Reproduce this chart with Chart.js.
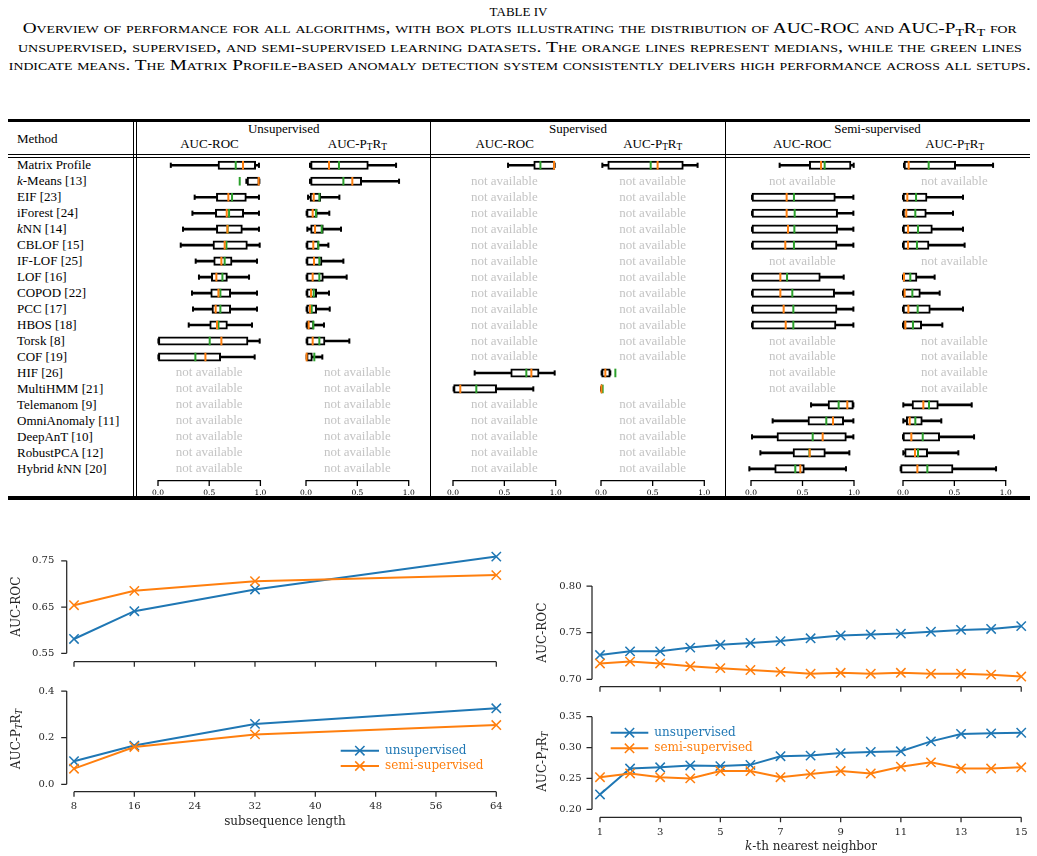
<!DOCTYPE html>
<html>
<head>
<meta charset="utf-8">
<script src="https://cdn.jsdelivr.net/npm/chart.js@4.4.1/dist/chart.umd.min.js"></script>
<style>
  html, body { margin: 0; padding: 0; background: #fff; }
  #page { position: relative; width: 1037px; height: 856px; overflow: hidden; font-family: "Liberation Serif", serif; color: #000; }
  .t { position: absolute; white-space: nowrap; font-size: 13px; line-height: 16px; }
  .cap { position: absolute; left: 0; width: 1037px; text-align: center; white-space: nowrap; font-size: 14px; line-height: 16px; font-variant: small-caps; }
  .cap span { display: inline-block; transform-origin: 50% 50%; }
  .rule { position: absolute; background: #000; }
  sub { font-size: 0.72em; vertical-align: -0.25em; line-height: 0; }
  canvas { position: absolute; }
</style>
</head>
<body>
<div id="page"></div>
<script>
// ---- data ----
const methods = ['Matrix Profile', 'k-Means [13]', 'EIF [23]', 'iForest [24]', 'kNN [14]', 'CBLOF [15]',
  'IF-LOF [25]', 'LOF [16]', 'COPOD [22]', 'PCC [17]', 'HBOS [18]', 'Torsk [8]', 'COF [19]', 'HIF [26]',
  'MultiHMM [21]', 'Telemanom [9]', 'OmniAnomaly [11]', 'DeepAnT [10]', 'RobustPCA [12]', 'Hybrid kNN [20]'];

// box stats per method: [lower whisker, q1, median, q3, upper whisker, mean], null = not available
const unsupRoc = [
  [0.125, 0.586, 0.83, 0.954, 0.986, 0.759],
  [0.863, 0.87, 0.983, 0.99, 0.99, 0.798],
  [0.358, 0.57, 0.687, 0.863, 0.986, 0.723],
  [0.336, 0.56, 0.671, 0.837, 0.986, 0.694],
  [0.244, 0.57, 0.678, 0.824, 0.986, 0.68],
  [0.222, 0.537, 0.651, 0.873, 0.993, 0.668],
  [0.368, 0.544, 0.619, 0.723, 0.967, 0.651],
  [0.40, 0.521, 0.57, 0.678, 0.889, 0.629],
  [0.332, 0.515, 0.59, 0.71, 0.967, 0.609],
  [0.342, 0.527, 0.563, 0.71, 0.967, 0.609],
  [0.30, 0.505, 0.576, 0.678, 0.918, 0.59],
  [0.004, 0.004, 0.619, 0.879, 0.993, 0.505],
  [0.004, 0.004, 0.463, 0.612, 0.944, 0.365],
  null, null, null, null, null, null, null
];
const unsupPtrt = [
  [0.039, 0.045, 0.224, 0.607, 0.877, 0.321],
  [0.039, 0.045, 0.451, 0.542, 0.906, 0.364],
  [0.02, 0.039, 0.075, 0.143, 0.325, 0.13],
  [0.006, 0.006, 0.065, 0.11, 0.227, 0.097],
  [0.013, 0.045, 0.088, 0.169, 0.341, 0.153],
  [0.006, 0.006, 0.071, 0.127, 0.218, 0.12],
  [0.006, 0.006, 0.078, 0.156, 0.364, 0.13],
  [0.006, 0.006, 0.065, 0.169, 0.396, 0.13],
  [0.006, 0.006, 0.049, 0.104, 0.224, 0.075],
  [0.006, 0.006, 0.039, 0.104, 0.231, 0.055],
  [0.006, 0.006, 0.026, 0.078, 0.175, 0.071],
  [0.006, 0.006, 0.065, 0.185, 0.422, 0.13],
  [0.006, 0.006, 0.006, 0.062, 0.159, 0.081],
  null, null, null, null, null, null, null
];
const supRoc = [
  [0.536, 0.786, 0.984, 0.99, 0.99, 0.851],
  null, null, null, null, null, null, null, null, null, null, null, null,
  [0.211, 0.562, 0.763, 0.838, 0.99, 0.714],
  [0.006, 0.006, 0.071, 0.425, 0.782, 0.227],
  null, null, null, null, null
];
const supPtrt = [
  [0.013, 0.065, 0.548, 0.797, 0.935, 0.481],
  null, null, null, null, null, null, null, null, null, null, null, null,
  [0.006, 0.006, 0.042, 0.09, 0.09, 0.139],
  [0.002, 0.002, 0.004, 0.006, 0.006, 0.016],
  null, null, null, null, null
];
const semiRoc = [
  [0.278, 0.566, 0.68, 0.971, 0.997, 0.715],
  null,
  [0.01, 0.01, 0.346, 0.819, 0.994, 0.417],
  [0.01, 0.01, 0.346, 0.841, 0.994, 0.424],
  [0.01, 0.01, 0.359, 0.841, 0.994, 0.421],
  [0.01, 0.01, 0.333, 0.835, 0.994, 0.417],
  null,
  [0.01, 0.01, 0.285, 0.673, 0.90, 0.35],
  [0.01, 0.01, 0.285, 0.812, 0.994, 0.401],
  [0.01, 0.01, 0.317, 0.835, 0.994, 0.411],
  [0.01, 0.01, 0.337, 0.825, 0.994, 0.411],
  null, null, null, null,
  [0.583, 0.748, 0.935, 0.994, 0.994, 0.851],
  [0.21, 0.553, 0.796, 0.90, 0.994, 0.731],
  [0.01, 0.252, 0.696, 0.926, 0.994, 0.599],
  [0.091, 0.408, 0.57, 0.722, 0.955, 0.567],
  [-0.016, 0.23, 0.479, 0.518, 0.922, 0.43]
];
const semiPtrt = [
  [0.01, 0.01, 0.055, 0.513, 0.877, 0.25],
  null,
  [0.0, 0.0, 0.042, 0.234, 0.584, 0.127],
  [0.0, 0.0, 0.032, 0.227, 0.487, 0.12],
  [0.0, 0.0, 0.049, 0.286, 0.584, 0.146],
  [0.0, 0.0, 0.049, 0.253, 0.60, 0.136],
  null,
  [0.0, 0.0, 0.01, 0.136, 0.308, 0.071],
  [0.0, 0.0, 0.016, 0.169, 0.357, 0.091],
  [0.0, 0.0, 0.052, 0.266, 0.584, 0.143],
  [0.0, 0.0, 0.023, 0.182, 0.383, 0.097],
  null, null, null, null,
  [0.003, 0.088, 0.198, 0.344, 0.669, 0.253],
  [0.003, 0.032, 0.065, 0.188, 0.373, 0.12],
  [0.0, 0.0, 0.081, 0.357, 0.692, 0.192],
  [0.003, 0.016, 0.117, 0.24, 0.539, 0.146],
  [-0.023, -0.023, 0.14, 0.487, 0.906, 0.237]
];
const boxTicks = [0, 0.5, 1];

const subseqLengths = [8, 16, 32, 64];
const subseqRocUnsup = [0.581, 0.641, 0.688, 0.759];
const subseqRocSemi = [0.654, 0.685, 0.706, 0.719];
const subseqPtrtUnsup = [0.099, 0.166, 0.259, 0.326];
const subseqPtrtSemi = [0.067, 0.160, 0.214, 0.254];
const subseqTicks = [8, 16, 24, 32, 40, 48, 56, 64];
const subseqRocTicks = [0.55, 0.65, 0.75];
const subseqPtrtTicks = [0.0, 0.2, 0.4];

const kValues = [1, 2, 3, 4, 5, 6, 7, 8, 9, 10, 11, 12, 13, 14, 15];
const kRocUnsup = [0.726, 0.730, 0.730, 0.734, 0.737, 0.739, 0.741, 0.744, 0.747, 0.748, 0.749, 0.751, 0.753, 0.754, 0.757];
const kRocSemi = [0.717, 0.719, 0.717, 0.714, 0.712, 0.710, 0.708, 0.706, 0.707, 0.706, 0.707, 0.706, 0.706, 0.705, 0.703];
const kPtrtUnsup = [0.224, 0.266, 0.268, 0.271, 0.270, 0.272, 0.286, 0.287, 0.291, 0.293, 0.294, 0.310, 0.322, 0.323, 0.324];
const kPtrtSemi = [0.252, 0.258, 0.252, 0.250, 0.262, 0.262, 0.252, 0.257, 0.262, 0.258, 0.269, 0.276, 0.266, 0.266, 0.268];
const kTicks = [1, 3, 5, 7, 9, 11, 13, 15];
const kRocTicks = [0.70, 0.75, 0.80];
const kPtrtTicks = [0.20, 0.25, 0.30, 0.35];

const seriesNames = ['unsupervised', 'semi-supervised'];

// ---- colours ----
const BLUE = '#1f77b4', ORANGE = '#ff7f0e', GREEN = '#2ca02c', INK = '#262626';

const page = document.getElementById('page');

function text(html, x, baseline, center) {
  const d = document.createElement('div');
  d.className = 't';
  d.innerHTML = html;
  d.style.top = (baseline - 12.4) + 'px';
  if (center) { d.style.left = (x - 300) + 'px'; d.style.width = '600px'; d.style.textAlign = 'center'; }
  else d.style.left = x + 'px';
  page.appendChild(d);
}
function rule(x, y, w, h) {
  const d = document.createElement('div');
  d.className = 'rule';
  Object.assign(d.style, { left: x + 'px', top: y + 'px', width: w + 'px', height: h + 'px' });
  page.appendChild(d);
}
function makeCanvas(left, top, w, h) {
  const c = document.createElement('canvas');
  c.width = w; c.height = h;
  Object.assign(c.style, { left: left + 'px', top: top + 'px', width: w + 'px', height: h + 'px' });
  page.appendChild(c);
  return c;
}
const italK = s => s.replace(/\bk(?=NN|-)/, '<i>k</i>');
const PTRT = 'AUC-P<sub>T</sub>R<sub>T</sub>';

// ---- caption ----
text('TABLE IV', 518.5, 16, true);
const capLines = [
  'Overview of performance for all algorithms, with box plots illustrating the distribution of AUC-ROC and AUC-P<sub>T</sub>R<sub>T</sub> for',
  'unsupervised, supervised, and semi-supervised learning datasets. The orange lines represent medians, while the green lines',
  'indicate means. The Matrix Profile-based anomaly detection system consistently delivers high performance across all setups.'
];
const capWidths = [994, 1004, 1022];
const capBase = [34, 52.5, 71];
capLines.forEach((html, i) => {
  const d = document.createElement('div');
  d.className = 'cap';
  d.style.top = (capBase[i] - 12.8) + 'px';
  d.style.left = '1.5px';
  const s = document.createElement('span');
  s.innerHTML = html;
  d.appendChild(s);
  page.appendChild(d);
  const w = s.getBoundingClientRect().width;
  s.style.transform = 'scaleX(' + (capWidths[i] / w) + ')';
});

// ---- table frame ----
rule(8, 118.5, 1022, 3.5);
rule(8, 154, 1022, 1);
rule(8, 157, 1022, 1);
rule(8, 496, 1022, 4);
[132.5, 136, 430.2, 724.5].forEach(x => rule(x, 122, 1.1, 374));

text('Method', 17, 143);
text('Unsupervised', 283.7, 133.3, true);
text('Supervised', 578, 133.3, true);
text('Semi-supervised', 877.5, 133.3, true);
[[209.5, 'AUC-ROC'], [357.4, PTRT], [504.7, 'AUC-ROC'], [652.7, PTRT], [802.2, 'AUC-ROC'], [954.7, PTRT]]
  .forEach(([x, h]) => text(h, x, 148.3, true));

const rowCenter = i => 165.3 + 15.97 * i;
methods.forEach((m, i) => text(italK(m), 17, rowCenter(i) + 4.2));

// ---- box plot columns ----
const boxAxisPlugin = {
  id: 'boxAxis',
  afterDraw(chart, args, o) {
    const { ctx, chartArea: a, scales: { x, y } } = chart;
    const yy = a.bottom + 3.9;
    ctx.save();
    ctx.strokeStyle = '#000';
    ctx.lineWidth = 1.3;
    ctx.beginPath();
    ctx.moveTo(x.getPixelForValue(0) - 0.65, yy);
    ctx.lineTo(x.getPixelForValue(1) + 0.65, yy);
    x.ticks.forEach(t => {
      const p = x.getPixelForValue(t.value);
      ctx.moveTo(p, yy);
      ctx.lineTo(p, yy + 5.3);
    });
    ctx.stroke();
    ctx.font = '13px "Liberation Serif"';
    ctx.fillStyle = '#c4c4c4';
    ctx.textAlign = 'center';
    ctx.textBaseline = 'alphabetic';
    o.stats.forEach((s, i) => {
      if (!s) ctx.fillText('not available', x.getPixelForValue(0.5), y.getPixelForValue(i) + 3.5);
    });
    ctx.restore();
  }
};

function boxChart(stats, x0, x1) {
  const span = x1 - x0;
  const w = Math.round(span + 36);
  const c = makeCanvas(x0 - 18, 150, w, 350);
  const pts = k => stats.map((s, i) => s ? { x: s[k], y: methods[i] } : null).filter(Boolean);
  const tick = (data, color, r, order) => ({
    type: 'scatter', data, order, clip: false,
    pointStyle: 'line', pointRotation: 90, pointRadius: r,
    pointBorderWidth: 2, pointBorderColor: color, pointBackgroundColor: color
  });
  new Chart(c, {
    type: 'bar',
    data: {
      labels: methods,
      datasets: [
        tick(pts(2), ORANGE, 4.3, 0),
        tick(pts(5), GREEN, 4.3, 1),
        tick(pts(0).concat(pts(4)), '#000', 2.6, 2),
        {
          data: stats.map(s => s ? [s[1], s[3]] : null), order: 3, clip: false,
          backgroundColor: '#fff', borderColor: '#000', borderWidth: 2, borderSkipped: false,
          barThickness: 8.5, grouped: false
        },
        {
          data: stats.map(s => s ? [s[0], s[4]] : null), order: 4, clip: false,
          backgroundColor: '#000', borderWidth: 0, barThickness: 2, grouped: false
        }
      ]
    },
    options: {
      indexAxis: 'y',
      animation: false,
      responsive: false,
      events: [],
      layout: { padding: { left: 18, right: w - 18 - span, top: 7.3, bottom: 0 } },
      plugins: { legend: { display: false }, tooltip: { enabled: false }, boxAxis: { stats } },
      scales: {
        y: { type: 'category', display: false, offset: true },
        x: {
          type: 'linear', min: 0, max: 1,
          afterBuildTicks: s => { s.ticks = boxTicks.map(v => ({ value: v })); },
          afterFit: s => { s.height = 23.2; s.paddingLeft = 0; s.paddingRight = 0; },
          grid: { display: false, drawTicks: false },
          border: { display: false },
          ticks: { padding: 11.7, maxRotation: 0, autoSkip: false, color: '#000',
                   font: { family: 'DejaVu Serif', size: 7.5 }, callback: v => v.toFixed(1) }
        }
      }
    },
    plugins: [boxAxisPlugin]
  });
}

boxChart(unsupRoc, 158.3, 260.7);
boxChart(unsupPtrt, 306, 408.7);
boxChart(supRoc, 453.3, 556);
boxChart(supPtrt, 601, 704.3);
boxChart(semiRoc, 750.7, 853.7);
boxChart(semiPtrt, 903.3, 1006);

// ---- line charts ----
function drawRich(ctx, segs, cx, cy, rot, size, color) {
  ctx.save();
  ctx.translate(cx, cy);
  if (rot) ctx.rotate(rot);
  ctx.fillStyle = color;
  ctx.textBaseline = 'middle';
  ctx.textAlign = 'left';
  const fontFor = s => (s.italic ? 'italic ' : '') + (s.sub ? size * 0.7 : size) + 'px "DejaVu Serif"';
  const widths = segs.map(s => { ctx.font = fontFor(s); return ctx.measureText(s.t).width; });
  let x = -widths.reduce((a, b) => a + b, 0) / 2;
  segs.forEach((s, i) => {
    ctx.font = fontFor(s);
    ctx.fillText(s.t, x, s.sub ? size * 0.3 : 0);
    x += widths[i];
  });
  ctx.restore();
}

const decorPlugin = {
  id: 'decor',
  afterDraw(chart, args, o) {
    const { ctx, chartArea: a, scales: { x, y } } = chart;
    ctx.save();
    ctx.strokeStyle = INK;
    ctx.lineWidth = 1.25;
    ctx.beginPath();
    const py = y.ticks.map(t => y.getPixelForValue(t.value));
    ctx.moveTo(a.left, Math.min(...py));
    ctx.lineTo(a.left, Math.max(...py));
    py.forEach(p => { ctx.moveTo(a.left, p); ctx.lineTo(a.left - 5.5, p); });
    const px = x.ticks.map(t => x.getPixelForValue(t.value));
    ctx.moveTo(Math.min(...px), a.bottom);
    ctx.lineTo(Math.max(...px), a.bottom);
    px.forEach(p => { ctx.moveTo(p, a.bottom); ctx.lineTo(p, a.bottom + 5); });
    ctx.stroke();
    ctx.restore();
    (o.titles || []).forEach(t => drawRich(ctx, t.segs, t.x, t.y, t.rot, 12, INK));
    if (o.legend) {
      const L = o.legend;
      L.items.forEach(it => {
        ctx.save();
        ctx.strokeStyle = it.color;
        ctx.lineWidth = 2;
        ctx.beginPath();
        ctx.moveTo(L.x0, it.y); ctx.lineTo(L.x1, it.y);
        ctx.stroke();
        const m = (L.x0 + L.x1) / 2, r = 4.65;
        ctx.lineWidth = 1.5;
        ctx.beginPath();
        ctx.moveTo(m - r, it.y - r); ctx.lineTo(m + r, it.y + r);
        ctx.moveTo(m + r, it.y - r); ctx.lineTo(m - r, it.y + r);
        ctx.stroke();
        ctx.font = '12px "DejaVu Serif"';
        ctx.fillStyle = it.color;
        ctx.textBaseline = 'middle';
        ctx.textAlign = 'left';
        ctx.fillText(it.label, L.tx, it.y);
        ctx.restore();
      });
    }
  }
};

function lineChart(p) {
  const c = makeCanvas(p.left, p.top, p.w, p.h);
  const series = (vals, color, order) => ({
    data: p.xs.map((v, i) => ({ x: v, y: vals[i] })),
    borderColor: color, backgroundColor: color, borderWidth: 2, tension: 0, clip: false, order,
    pointStyle: 'crossRot', pointRadius: 6.6, pointBorderWidth: 1.5,
    pointBorderColor: color, pointBackgroundColor: color
  });
  new Chart(c, {
    type: 'line',
    data: { datasets: [series(p.semi, ORANGE, 0), series(p.unsup, BLUE, 1)] },
    options: {
      animation: false,
      responsive: false,
      events: [],
      layout: { padding: { left: 0, right: p.padRight, top: p.padTop, bottom: 0 } },
      plugins: {
        legend: { display: false }, tooltip: { enabled: false },
        decor: { titles: p.titles, legend: p.legend }
      },
      scales: {
        x: {
          type: 'linear', min: p.xMin, max: p.xMax,
          afterBuildTicks: s => { s.ticks = p.xTicks.map(v => ({ value: v })); },
          afterFit: s => { s.height = p.xH; s.paddingLeft = 0; s.paddingRight = 0; },
          grid: { display: false, drawTicks: false },
          border: { display: false },
          ticks: { display: p.showX, padding: 9, maxRotation: 0, autoSkip: false, color: INK,
                   font: { family: 'DejaVu Serif', size: 10 }, callback: v => String(v) }
        },
        y: {
          type: 'linear', min: p.yMin, max: p.yMax,
          afterBuildTicks: s => { s.ticks = p.yTicks.map(v => ({ value: v })); },
          afterFit: s => { s.width = p.yW; s.paddingTop = 0; s.paddingBottom = 0; },
          grid: { display: false, drawTicks: false },
          border: { display: false },
          ticks: { padding: p.yPad, color: INK, autoSkip: false,
                   font: { family: 'DejaVu Serif', size: 10 }, callback: v => v.toFixed(p.yDec) }
        }
      }
    },
    plugins: [decorPlugin]
  });
}

const ptrtSegs = [{ t: 'AUC-P' }, { t: 'T', sub: true, italic: true }, { t: 'R' }, { t: 'T', sub: true, italic: true }];
const rocSegs = [{ t: 'AUC-ROC' }];
const UP = -Math.PI / 2;

// left: subsequence length
lineChart({
  left: 0, top: 540, w: 520, h: 130, yW: 66.7, padTop: 8, padRight: 15, xH: 8.3,
  xMin: 7.032, xMax: 65.154, yMin: 0.5319, yMax: 0.7774,
  xs: subseqLengths, unsup: subseqRocUnsup, semi: subseqRocSemi,
  xTicks: subseqTicks, yTicks: subseqRocTicks, yDec: 2, showX: false, yPad: 12.4,
  titles: [{ segs: rocSegs, x: 16.7, y: 66.7, rot: UP }]
});
lineChart({
  left: 0, top: 670, w: 520, h: 186, yW: 66.7, padTop: 10, padRight: 15, xH: 64.3,
  xMin: 7.032, xMax: 65.154, yMin: -0.0317, yMax: 0.4472,
  xs: subseqLengths, unsup: subseqPtrtUnsup, semi: subseqPtrtSemi,
  xTicks: subseqTicks, yTicks: subseqPtrtTicks, yDec: 1, showX: true, yPad: 12.4,
  titles: [
    { segs: ptrtSegs, x: 16.7, y: 69, rot: UP },
    { segs: [{ t: 'subsequence length' }], x: 285, y: 151.5, rot: 0 }
  ],
  legend: { x0: 340.7, x1: 379, tx: 385, items: [
    { label: seriesNames[0], color: BLUE, y: 80.7 },
    { label: seriesNames[1], color: ORANGE, y: 96 }
  ] }
});

// right: k-th nearest neighbor
lineChart({
  left: 520, top: 560, w: 517, h: 135, yW: 72, padTop: 18, padRight: 7, xH: 8.3,
  xMin: 0.7348, xMax: 15.2553, yMin: 0.6921, yMax: 0.8086,
  xs: kValues, unsup: kRocUnsup, semi: kRocSemi,
  xTicks: kTicks, yTicks: kRocTicks, yDec: 2, showX: false, yPad: 10.5,
  titles: [{ segs: rocSegs, x: 22.7, y: 72.7, rot: UP }]
});
lineChart({
  left: 520, top: 695, w: 517, h: 161, yW: 72, padTop: 13, padRight: 7, xH: 38.7,
  xMin: 0.7348, xMax: 15.2553, yMin: 0.187, yMax: 0.3641,
  xs: kValues, unsup: kPtrtUnsup, semi: kPtrtSemi,
  xTicks: kTicks, yTicks: kPtrtTicks, yDec: 2, showX: true, yPad: 10.5,
  titles: [
    { segs: ptrtSegs, x: 22.7, y: 66.7, rot: UP },
    { segs: [{ t: 'k', italic: true }, { t: '-th nearest neighbor' }], x: 291, y: 152, rot: 0 }
  ],
  legend: { x0: 90.7, x1: 128.3, tx: 134.3, items: [
    { label: seriesNames[0], color: BLUE, y: 37.7 },
    { label: seriesNames[1], color: ORANGE, y: 53.3 }
  ] }
});
</script>
</body>
</html>
